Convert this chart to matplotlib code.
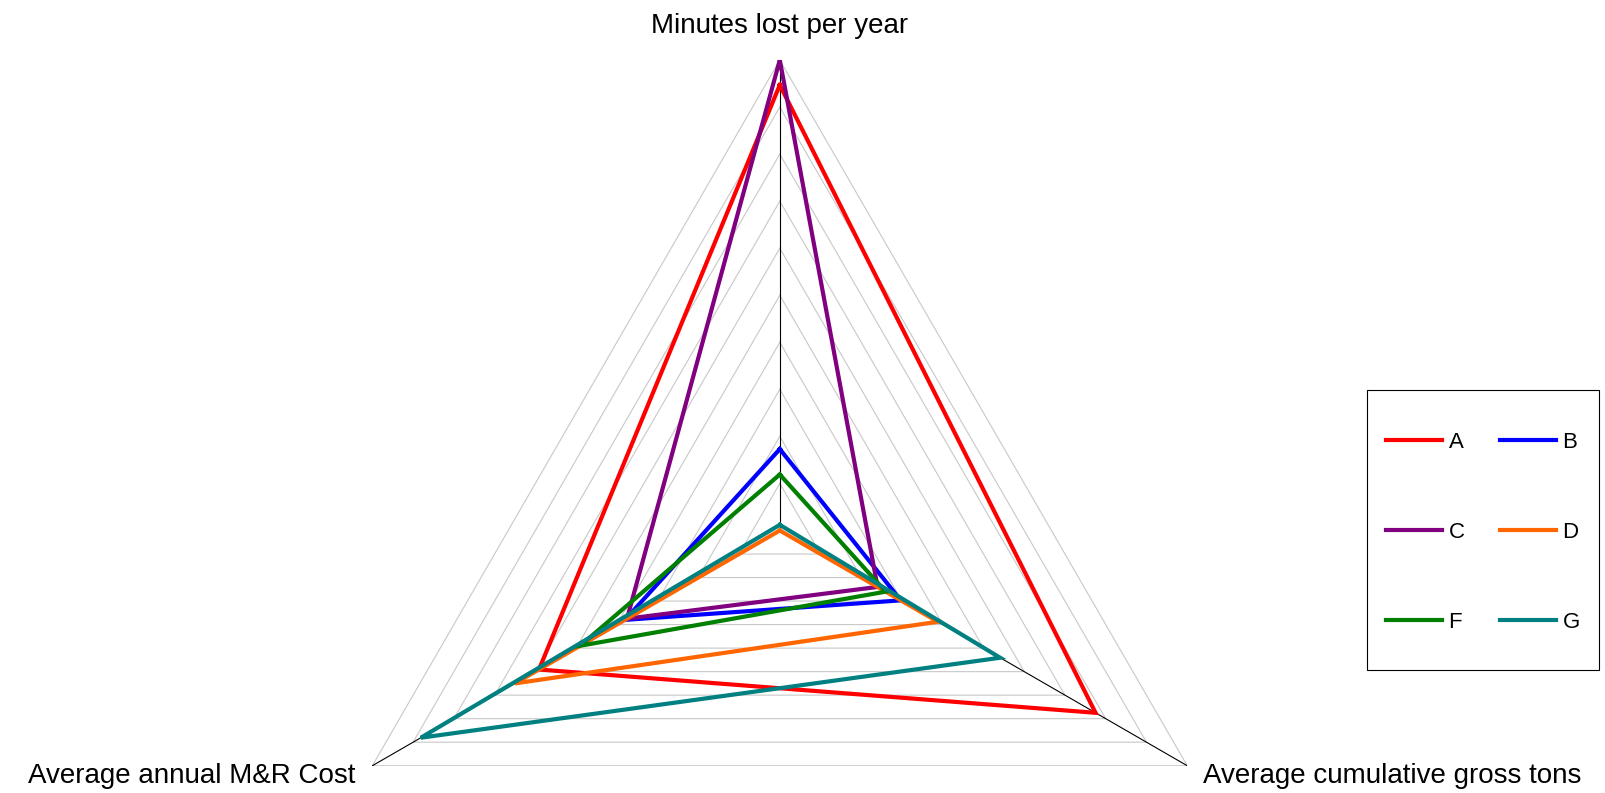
import numpy as np
import matplotlib
matplotlib.use("Agg")
import matplotlib.pyplot as plt
from matplotlib.patches import Rectangle

plt.rcParams['font.family'] = ['Liberation Sans', 'DejaVu Sans']

# Radar axes, clockwise from the top
axes_labels = ['Minutes lost per year',
               'Average cumulative gross tons',
               'Average annual M&R Cost']
series_names = ['A', 'B', 'C', 'D', 'F', 'G']
series_colors = ['#ff0000', '#0000ff', '#800080', '#ff6600', '#008000', '#008080']

# Scores on a 0-10 scale, one value per axis (top, right, left)
minutes_lost = [9.47, 1.73, 10.0, 0.0, 1.19, 0.12]
gross_tons = [7.75, 2.97, 2.4, 3.88, 2.6, 5.41]
mr_cost = [5.91, 3.8, 3.75, 6.5, 4.9, 8.81]

levels = np.arange(1, 11)
vmax = 10.0

angles = np.deg2rad([0, 120, 240])


def to_xy(vals):
    vals = np.asarray(vals, dtype=float) / vmax
    x = vals * np.sin(angles)
    y = vals * np.cos(angles)
    return np.append(x, x[0]), np.append(y, y[0])


fig = plt.figure(figsize=(16.05, 7.93), dpi=100)
ax = fig.add_axes([0.2320, 0.0344, 0.5077, 0.8899])
ax.set_xlim(-np.cos(np.pi / 6), np.cos(np.pi / 6))
ax.set_ylim(-0.5, 1.0)
ax.axis('off')

# triangular grid
for lv in levels:
    gx, gy = to_xy([lv] * 3)
    ax.plot(gx, gy, color='#c8c8c8', lw=0.8, zorder=1)

# spokes
for a in angles:
    ax.plot([0, np.sin(a)], [0, np.cos(a)], color='black', lw=0.8, zorder=2)

lines = []
for i, name in enumerate(series_names):
    sx, sy = to_xy([minutes_lost[i], gross_tons[i], mr_cost[i]])
    ln, = ax.plot(sx, sy, color=series_colors[i], lw=3, label=name,
                  solid_joinstyle='miter', zorder=3 + i)
    lines.append(ln)

ax.text(0, 1.0568, axes_labels[0], ha='center', va='baseline', fontsize=20)
ax.text(0.900, -0.536, axes_labels[1], ha='left', va='baseline', fontsize=20)
ax.text(-0.903, -0.536, axes_labels[2], ha='right', va='baseline', fontsize=20)

# legend fills column by column, so reorder to read A B / C D / F G
order = [0, 2, 4, 1, 3, 5]
fig.legend(handles=[lines[k] for k in order], ncol=2, loc='center',
           bbox_to_anchor=(0.9240, 0.3285),
           frameon=False, fontsize=16, handlelength=2.5, handletextpad=0.3,
           columnspacing=1.6, labelspacing=3.1)
fig.patches.append(Rectangle((0.8517, 0.1551), 0.1446, 0.3531, transform=fig.transFigure,
                             fill=False, edgecolor='black', lw=0.8))

fig.savefig('out.png', dpi=100)
